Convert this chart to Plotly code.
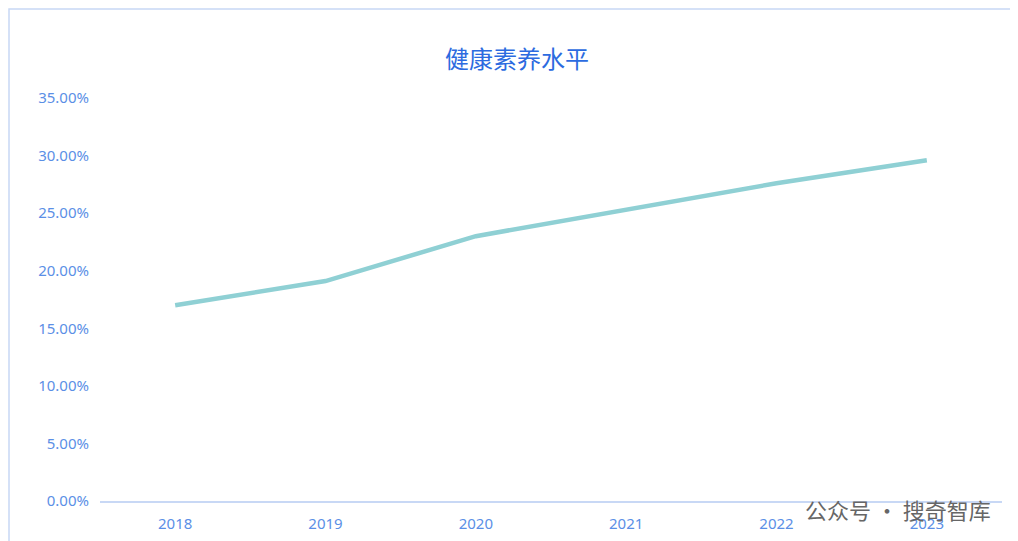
import plotly.graph_objects as go

years = ["2018", "2019", "2020", "2021", "2022", "2023"]
health_literacy = [0.170, 0.191, 0.230, 0.253, 0.276, 0.296]
y_ticks = [0, 0.05, 0.10, 0.15, 0.20, 0.25, 0.30, 0.35]

font_cn = "Noto Sans CJK SC"
blue = "#5b8fe6"

fig = go.Figure()
fig.add_trace(go.Scatter(x=years, y=health_literacy, mode="lines",
                         line=dict(color="#8fd0d4", width=4.5),
                         hoverinfo="x+y"))

fig.update_layout(
    width=1018, height=541,
    paper_bgcolor="white", plot_bgcolor="white",
    margin=dict(l=92, r=24, t=90, b=48),
    title=dict(text="健康素养水平", x=0.5, y=0.92, xanchor="center",
               font=dict(family=font_cn, size=24, color="#2c6be0")),
    showlegend=False,
    xaxis=dict(type="category", range=[-0.5, 5.5], showgrid=False,
               showline=True, linecolor="#c8d8f5", linewidth=1.5, ticks="",
               ticklabelstandoff=8,
               tickfont=dict(family="Noto Sans", size=15, color=blue)),
    yaxis=dict(range=[0, 0.35], tickvals=y_ticks, tickformat=".2%",
               showgrid=False, zeroline=False, ticks="",
               ticklabelstandoff=10,
               tickfont=dict(family="Noto Sans", size=15, color=blue)),
)

# light blue border around the chart
fig.add_shape(type="rect", xref="paper", yref="paper",
              x0=-91 / 902, x1=1 + 23 / 903, y0=-47 / 403, y1=1 + 89 / 403,
              line=dict(color="#c8d8f5", width=1.5))

# watermark
fig.add_annotation(text="公众号 · 搜奇智库", xref="paper", yref="paper",
                   x=0.99, y=-0.02, xanchor="right", yanchor="middle",
                   showarrow=False,
                   font=dict(family=font_cn, size=22, color="#666666"))

fig.write_html("out.html")
